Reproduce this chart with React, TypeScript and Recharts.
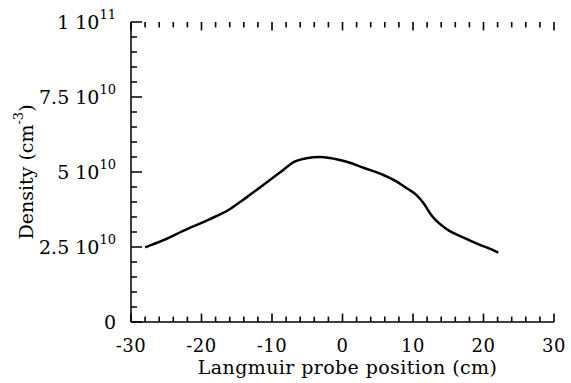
import React from "react";
import { LineChart, Line, XAxis, YAxis, ReferenceLine } from "recharts";

// probe position (cm) and density (units of 1e10 cm^-3)
const positions = [-28, -25.4, -22.6, -18.8, -16, -14.1, -12.2, -10.3, -8.4, -7, -5.1, -3.2, -1.8, 0.6, 3, 5.8, 7.7, 9.1, 10.5, 11.5, 12.7, 14.8, 17.1, 19.5, 20.7, 22.1];
const density = [2.49, 2.73, 3.04, 3.43, 3.76, 4.07, 4.4, 4.73, 5.07, 5.32, 5.46, 5.5, 5.47, 5.34, 5.14, 4.9, 4.68, 4.46, 4.23, 3.96, 3.53, 3.09, 2.82, 2.57, 2.46, 2.31];

const xTicks = [-30, -28, -26, -24, -22, -20, -18, -16, -14, -12, -10, -8, -6, -4, -2, 0, 2, 4, 6, 8, 10, 12, 14, 16, 18, 20, 22, 24, 26, 28, 30];
const yTicks = [0, 0.5, 1, 1.5, 2, 2.5, 3, 3.5, 4, 4.5, 5, 5.5, 6, 6.5, 7, 7.5, 8, 8.5, 9, 9.5, 10];
const yMajor = [0, 2.5, 5, 7.5, 10];
const yMantissa = ["0", "2.5 10", "5 10", "7.5 10", "1 10"];
const yExponent = ["", "10", "10", "10", "11"];

const data = positions.map((x, i) => ({ x, y: density[i] }));

const FONT = "DejaVu Serif";
const INK = "#000";
// inner x tick marks, in y-data units (0.1 unit is about 3 px)
const MINOR_LEN = 0.18;
const MAJOR_LEN = 0.28;

const BottomTick = (props: any) => {
  const { x, y, payload } = props;
  const v = payload.value;
  if (v % 10 !== 0) return <g />;
  return (
    <text x={x} y={Number(y) + 30} textAnchor="middle" fontFamily={FONT} fontSize={18} letterSpacing={0.5} fill={INK}>
      {v}
    </text>
  );
};

const LeftTick = (props: any) => {
  const { x, y, payload } = props;
  const idx = yMajor.indexOf(payload.value);
  const major = idx >= 0;
  return (
    <g>
      <line x1={x} x2={x + (major ? 11 : 6)} y1={y} y2={y} stroke={INK} strokeWidth={1.5} />
      {major && (
        <text x={x - 15} y={y + 7} textAnchor="end" fontFamily={FONT} fontSize={19} fill={INK}>
          <tspan>{yMantissa[idx]}</tspan>
          {yExponent[idx] && (
            <tspan dy={-10} fontSize={13}>
              {yExponent[idx]}
            </tspan>
          )}
        </text>
      )}
    </g>
  );
};

const RightTick = (props: any) => {
  const { x, y, payload } = props;
  const major = yMajor.includes(payload.value);
  return <line x1={x} x2={x - (major ? 11 : 6)} y1={y} y2={y} stroke={INK} strokeWidth={1.5} />;
};

const XTitle = (props: any) => {
  const { x, y, width } = props.viewBox;
  return (
    <text x={x + width / 2 + 5} y={y + 52} textAnchor="middle" fontFamily={FONT} fontSize={19} letterSpacing={0.4} fill={INK}>
      Langmuir probe position (cm)
    </text>
  );
};

const YTitle = (props: any) => {
  const { x, y, height } = props.viewBox;
  const cx = x + 33;
  const cy = y + height / 2;
  return (
    <text x={cx} y={cy} transform={`rotate(-90 ${cx} ${cy})`} textAnchor="middle" fontFamily={FONT} fontSize={19} fill={INK}>
      <tspan>Density (cm</tspan>
      <tspan dy={-10} fontSize={13}>-3</tspan>
      <tspan dy={10}>)</tspan>
    </text>
  );
};

export default function App() {
  return (
    <div style={{ position: "absolute", left: 0, top: 0, background: "#fff" }}>
      <LineChart width={571} height={383} data={data} margin={{ top: 22, right: 17, bottom: 0, left: 0 }}>
        <XAxis
          dataKey="x"
          type="number"
          domain={[-30, 30]}
          ticks={xTicks}
          interval={0}
          tickSize={0}
          tickMargin={0}
          tickLine={false}
          height={61}
          tick={<BottomTick />}
          axisLine={{ stroke: INK, strokeWidth: 1.5 }}
          label={<XTitle />}
        />
        <XAxis
          xAxisId="top"
          orientation="top"
          dataKey="x"
          type="number"
          domain={[-30, 30]}
          ticks={xTicks}
          tick={false}
          tickLine={false}
          height={0}
          axisLine={{ stroke: INK, strokeWidth: 1.5 }}
        />
        <YAxis
          type="number"
          domain={[0, 10]}
          ticks={yTicks}
          interval={0}
          tickSize={0}
          tickMargin={0}
          width={131}
          tick={<LeftTick />}
          axisLine={{ stroke: INK, strokeWidth: 1.5 }}
          label={<YTitle />}
        />
        <YAxis
          yAxisId="right"
          orientation="right"
          type="number"
          domain={[0, 10]}
          ticks={yTicks}
          interval={0}
          tickSize={0}
          tickMargin={0}
          width={0}
          tick={<RightTick />}
          axisLine={{ stroke: INK, strokeWidth: 1.5 }}
        />
        {xTicks.map((v) => {
          const len = v % 10 === 0 ? MAJOR_LEN : MINOR_LEN;
          return (
            <ReferenceLine
              key={`b${v}`}
              segment={[{ x: v, y: 0 }, { x: v, y: len }]}
              stroke={INK}
              strokeWidth={1.6}
            />
          );
        })}
        {xTicks.map((v) => {
          const len = v % 10 === 0 ? MAJOR_LEN : MINOR_LEN;
          return (
            <ReferenceLine
              key={`t${v}`}
              segment={[{ x: v, y: 10 }, { x: v, y: 10 - len }]}
              stroke={INK}
              strokeWidth={1.6}
            />
          );
        })}
        <Line
          dataKey="y"
          type="monotone"
          stroke={INK}
          strokeWidth={2.5}
          dot={false}
          isAnimationActive={false}
        />
      </LineChart>
    </div>
  );
}
